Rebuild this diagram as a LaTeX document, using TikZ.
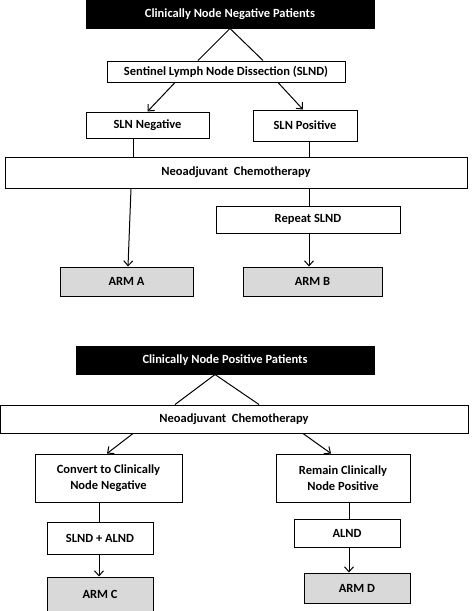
\documentclass[tikz,border=0pt]{standalone}
\usepackage{fontspec}
\setmainfont{Carlito}
\usetikzlibrary{arrows.meta}
\definecolor{armgray}{HTML}{D9D9D9}
\tikzset{
  box/.style={draw, line width=1pt, inner sep=0pt, align=center,
    font=\bfseries\fontsize{12.5}{15.5}\selectfont},
  head/.style={box, fill=black, text=white},
  arm/.style={box, fill=armgray},
  link/.style={line width=1pt},
  arr/.style={link, -{Straight Barb[length=5pt,width=9pt]}}
}
\begin{document}
\begin{tikzpicture}[x=1pt, y=-1pt]
  \useasboundingbox (0,0) rectangle (474,611);
  % clinically node negative
  \node[head, minimum width=288pt, minimum height=28pt] (neg) at (230,14) {Clinically Node Negative Patients};
  \node[box, minimum width=238pt, minimum height=21pt] (slnd) at (226,71.5) {Sentinel Lymph Node Dissection (SLND)};
  \node[box, minimum width=123pt, minimum height=26pt] (slnneg) at (147.5,125) {SLN Negative};
  \node[box, minimum width=104pt, minimum height=31pt] (slnpos) at (305,125.5) {SLN Positive};
  \node[box, minimum width=462pt, minimum height=31pt] (neoA) at (236,172.5) {Neoadjuvant~~Chemotherapy};
  \node[box, minimum width=184pt, minimum height=27pt] (repeat) at (308,219.5) {Repeat SLND};
  \node[arm, minimum width=133pt, minimum height=29pt] (armA) at (126.5,281.5) {ARM A};
  \node[arm, minimum width=139pt, minimum height=29pt] (armB) at (312.5,281.5) {ARM B};

  \draw[link] (neg.south) -- ([xshift=-28pt]slnd.north);
  \draw[link] (neg.south) -- ([xshift=37pt]slnd.north);
  \draw[arr] ([xshift=-51pt]slnd.south) -- (slnneg.north);
  \draw[arr] ([xshift=52pt]slnd.south) -- ([xshift=-2pt]slnpos.north);
  \draw[link] ([xshift=-14.5pt]slnneg.south) -- ([xshift=-14.5pt]slnneg.south |- neoA.north);
  \draw[link] ([xshift=4pt]slnpos.south) -- ([xshift=4pt]slnpos.south |- neoA.north);
  \draw[arr] ([xshift=-105pt]neoA.south) -- ([xshift=1.5pt]armA.north);
  \draw[link] ([xshift=1pt]repeat.north |- neoA.south) -- ([xshift=1pt]repeat.north);
  \draw[arr] ([xshift=-3.5pt]armB.north |- repeat.south) -- ([xshift=-3.5pt]armB.north);

  % clinically node positive
  \node[head, minimum width=298pt, minimum height=28pt] (pos) at (225,360) {Clinically Node Positive Patients};
  \node[box, minimum width=468pt, minimum height=28pt] (neoB) at (234,419) {Neoadjuvant~~Chemotherapy};
  \node[box, minimum width=147pt, minimum height=48pt] (conv) at (108.5,478) {Convert to Clinically\\Node Negative};
  \node[box, minimum width=134pt, minimum height=48pt] (rem) at (343,478) {Remain Clinically\\Node Positive};
  \node[box, minimum width=106pt, minimum height=32pt] (slndalnd) at (100,538) {SLND + ALND};
  \node[arm, minimum width=106pt, minimum height=34pt] (armC) at (100,594) {ARM C};
  \node[box, minimum width=106pt, minimum height=28pt] (alnd) at (347,533) {ALND};
  \node[arm, minimum width=106pt, minimum height=30pt] (armD) at (357,588) {ARM D};

  \draw[link] ([xshift=-10pt]pos.south) -- ([xshift=-59pt]neoB.north);
  \draw[link] ([xshift=-10pt]pos.south) -- ([xshift=25pt]neoB.north);
  \draw[arr] ([xshift=-101pt]neoB.south) -- ([xshift=-1.5pt]conv.north);
  \draw[arr] ([xshift=69pt]neoB.south) -- ([xshift=-12pt]rem.north);
  \draw[link] ([xshift=-1pt]slndalnd.north |- conv.south) -- ([xshift=-1pt]slndalnd.north);
  \draw[arr] ([xshift=-1pt]slndalnd.south) -- ([xshift=-1pt]armC.north);
  \draw[link] ([xshift=2pt]alnd.north |- rem.south) -- ([xshift=2pt]alnd.north);
  \draw[arr] ([xshift=2pt]alnd.south) -- ([xshift=-8pt]armD.north);
\end{tikzpicture}
\end{document}
